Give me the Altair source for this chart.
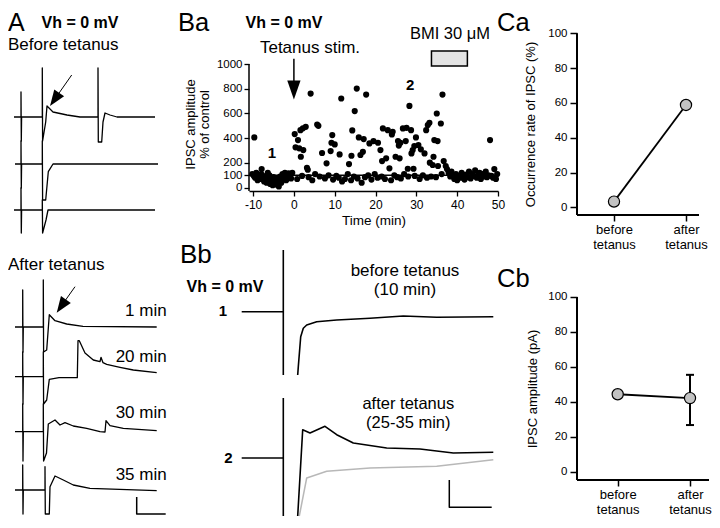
import altair as alt
import pandas as pd

FONT = "Liberation Sans"

# ================= Panel Ba : IPSC amplitude (% of control) vs time (min) =================
pre_time = [-9.7, -10.2, -9.8, -9.5, -9.2, -8.9, -8.6, -8.3, -8.0, -7.9,
            -7.6, -7.3, -7.0, -6.7, -6.4, -6.1, -6.0, -5.8, -5.5, -5.2,
            -5.0, -4.9, -4.6, -4.3, -4.0, -3.7, -3.4, -3.1, -3.0, -2.8,
            -2.5, -2.2, -2.0, -1.9, -1.6, -1.3, -1.0, -0.7, -0.4]
pre_amp = [406, 110, 95, 80, 120, 60, 100, 70, 110, 150,
           95, 50, 85, 40, 120, 70, 100, 30, 60, 20,
           85, 45, 75, 25, 55, 10, 90, 40, 65, 110,
           80, 120, 95, 60, 100, 115, 90, 75, 120]
burst_time = [0.2, 0.4, 1.0, 1.3, 1.6, 1.7, 2.2, 2.3, 2.9, 3.2,
              3.4, 4.1, 5.7, 6.0, 6.9, 8.0, 9.0, 9.2, 9.4, 10.0,
              11.2, 11.6, 13.5, 14.1, 14.3, 14.9, 15.4, 15.9, 16.3, 16.9,
              17.1, 17.7, 18.5, 19.5, 20.6, 21.2, 21.6, 21.8, 22.6, 23.0,
              23.4, 24.0, 24.2, 24.9, 25.5, 25.7, 25.9, 26.1, 26.7, 27.4,
              27.6, 27.9, 28.3, 28.7, 28.8, 29.1, 29.3, 29.5, 29.9, 30.5,
              31.1, 32.0, 32.4, 32.8, 33.2, 33.3, 34.0, 34.2, 34.4, 35.0,
              35.2, 35.3, 36.0, 36.4, 36.7, 37.2, 48.05]
burst_amp = [433, 326, 385, 318, 465, 250, 480, 304, 492, 161,
             145, 761, 511, 500, 280, 197, 296, 363, 425, 350,
             269, 721, 191, 258, 463, 619, 801, 406, 264, 290,
             393, 753, 358, 377, 363, 304, 215, 479, 237, 465,
             156, 430, 452, 250, 377, 340, 237, 363, 479, 377,
             484, 153, 661, 465, 277, 304, 153, 336, 406, 344,
             310, 277, 465, 506, 524, 202, 183, 250, 385, 600,
             377, 175, 519, 753, 215, 175, 385]
base_time = [0.8, 2.0, 3.6, 4.5, 5.2, 6.3, 7.6, 8.5, 9.6, 10.4,
             11.0, 11.8, 12.5, 13.2, 14.0, 14.7, 15.6, 16.6, 17.4, 18.2,
             19.0, 19.8, 20.5, 21.5, 22.3, 23.8, 24.6, 25.3, 26.2, 27.0,
             28.0, 29.6, 30.8, 31.6, 32.6, 33.6, 34.8, 36.2]
base_amp = [70, 95, 85, 60, 110, 90, 75, 100, 65, 95,
            80, 50, 70, 110, 60, 90, 75, 40, 85, 100,
            65, 110, 80, 90, 70, 60, 100, 85, 75, 110,
            90, 95, 70, 100, 80, 90, 85, 110]
late_time = [37.5, 37.9, 38.3, 38.6, 39.0, 39.3, 39.7, 40.0, 40.4, 40.8,
             41.1, 41.5, 41.8, 42.2, 42.6, 42.9, 43.3, 43.7, 44.0, 44.4,
             44.8, 45.1, 45.5, 45.8, 46.2, 46.6, 47.0, 47.3, 47.7, 48.4,
             48.8, 49.1, 49.5, 49.8]
late_amp = [150, 120, 90, 130, 100, 70, 110, 60, 95, 80,
            120, 90, 65, 105, 85, 130, 75, 110, 95, 140,
            80, 100, 120, 70, 110, 90, 130, 85, 100, 95,
            80, 150, 70, 110]
ba_time = pre_time + burst_time + base_time + late_time
ba_amp = pre_amp + burst_amp + base_amp + late_amp
ba_xticks = [-10, 0, 10, 20, 30, 40, 50]
ba_yticks = [0, 100, 200, 400, 600, 800, 1000]
control_level = [100]
bmi_window_min = [33.7, 42.5]
bmi_box_amp = [984, 1105]
tetanus_arrow_amp = [1043, 790]
ba_marks = ["1", "2"]
ba_mark_time = [-5.4, 28.5]
ba_mark_amp = [240, 788]

# ================= Panel C =================
conditions = ["before tetanus", "after tetanus"]
occurrence_rate = [3.3, 58.8]
ipsc_amp_pA = [44.4, 42.2]
err_cond = ["after tetanus"]
err_low = [26.8]
err_high = [55.5]
c_yticks = [0, 20, 40, 60, 80, 100]

# ================= Panel A traces (x: time, y: current; baseline = 0) =================
A_b1_x = [0, 7, 7, 7.3, 7.6, 28.3, 28.3, 28.6, 31.7, 33, 39, 53, 66, 84, 84, 84.3, 87.7, 89, 91, 96, 103, 141]
A_b1_y = [0, 0, 25, -24, 0, 0, 49, -24, -5, 11, 5, 2, 0, 0, 49, -25, -25, -5, 4, 2, 0, 0]
A_b2_x = [1, 7, 7, 7.3, 7.6, 28.3, 28.3, 28.6, 31.7, 34.3, 39, 144]
A_b2_y = [0, 0, 23, -24, 0, 0, 23, -36, -36, -7.7, 0, 0]
A_b3_x = [0, 7, 7, 7.3, 7.6, 28.3, 28.3, 28.6, 32, 34, 141]
A_b3_y = [0, 0, 22, -23, 0, 0, 10, -23, -10, 0, 0]
A_a1_x = [1, 8.7, 8.7, 9, 9.3, 29.3, 29.3, 29.6, 32.7, 35.3, 41, 52.7, 69, 142.7]
A_a1_y = [0, 0, 37, -25, 0, 0, 47, -25, -23, 12.3, 6.3, 3, 0.7, 0]
A_a2_x = [1, 8.7, 8.7, 9, 9.3, 29.3, 29.3, 29.6, 32.7, 35.3, 45, 63.3, 64, 65.3, 71, 79.3, 86, 87, 89, 92.7, 106, 119.3, 142.7]
A_a2_y = [0, 0, 24.7, -27.3, 0, 0, 24.7, -27.3, -23.3, -2.6, -1, -1, 36, 36, 23.7, 16.7, 15, 19.4, 14, 12.4, 9.4, 6.7, 4]
A_a3_x = [1, 8.7, 8.7, 9, 9.3, 29.3, 29.3, 29.6, 32.5, 34.3, 41, 46, 51, 59.3, 72.7, 86, 91, 92, 96, 109.3, 142.7]
A_a3_y = [0, 0, 27.7, -29.3, 0, 0, 27.7, -29.3, -21.3, 7.7, 11.7, 6.7, 9, 5.7, 3.4, 0, -0.3, 11, 6, 3.4, 1]
A_a4_x = [1, 8.7, 8.7, 9, 9.3, 31, 31, 31.3, 35.3, 36, 41, 49.3, 59.3, 76, 142.7]
A_a4_y = [0, 0, 25, -24, 0, 0, 23.3, -24, -24, 3.3, 14, 10, 5, 1.7, -0.7]
A_after_labels = ["1 min", "20 min", "30 min", "35 min"]
A_label_x = 152.7
A_label_y = [11, 15, 13.4, 10]
A_scale_x = [122.7, 122.7, 151.7]
A_scale_y = [-7, -24, -24]

# ================= Panel Bb traces =================
Bb1_pre_x, Bb1_pre_y = [-41.6, 0], [0, 0]
Bb1_art_x, Bb1_art_y = [0, 0], [61.7, -63.3]
Bb1_post_x = [14.4, 15, 17.4, 20, 23.4, 33.4, 53.4, 86.7, 120, 153.4, 210]
Bb1_post_y = [-63.3, -55, -25, -16.6, -13.3, -10, -8.3, -6.6, -4.3, -5.6, -5]
Bb2_pre_x, Bb2_pre_y = [-41.6, 0], [0, 0]
Bb2_art_x, Bb2_art_y = [0, 0], [60, -58]
Bb2_post_x = [14.4, 19.4, 26.7, 41.7, 53.4, 70, 103.4, 136.7, 170, 210]
Bb2_post_y = [-58, 28.3, 25, 31.7, 23.3, 15, 10, 9, 5, 5.7]
Bb2_bmi_x = [16, 23.4, 43.4, 86.7, 153.4, 210]
Bb2_bmi_y = [-58, -20, -13.3, -10, -8.3, -1.7]
Bb_scale_x = [166, 166, 208.4]
Bb_scale_y = [-22, -49.3, -49.3]

HEAD = "M0,-1L0.75,1L-0.75,1Z"
PLAIN = "'' + datum.value"


def seq(xs, ys, seg="trace"):
    return pd.DataFrame({"x": xs, "y": ys, "seg": seg, "i": list(range(len(xs)))})


def xs_enc(dom):
    return alt.X("x:Q", scale=alt.Scale(domain=dom, nice=False, zero=False), axis=None)


def ys_enc(dom):
    return alt.Y("y:Q", scale=alt.Scale(domain=dom, nice=False, zero=False), axis=None)


def line(df, X, Y, color="black", width=1.3):
    return alt.Chart(df).mark_line(color=color, strokeWidth=width, strokeJoin="round").encode(
        x=X, y=Y, detail="seg:N", order="i:Q")


def dtext(labels, xs, ys, X, Y, size=17, weight="normal", align="center"):
    df = pd.DataFrame({"x": xs, "y": ys, "label": labels})
    return alt.Chart(df).mark_text(font=FONT, fontSize=size, fontWeight=weight, align=align,
                                   baseline="alphabetic", color="black").encode(x=X, y=Y, text="label:N")


def ptext(s, x, y, size, weight="normal", align="left"):
    return alt.Chart(pd.DataFrame({"label": [s]})).mark_text(
        font=FONT, fontSize=size, fontWeight=weight, align=align, baseline="alphabetic",
        color="black").encode(x=alt.value(x), y=alt.value(y), text="label:N")


def arrow(x0, y0, xh, yh, angle, X, Y, size=256, shape=HEAD):
    shaft = alt.Chart(pd.DataFrame({"x": [x0], "y": [y0], "x2": [xh], "y2": [yh]})).mark_rule(
        color="black", strokeWidth=1).encode(x=X, y=Y, x2="x2:Q", y2="y2:Q")
    head = alt.Chart(pd.DataFrame({"x": [xh], "y": [yh]})).mark_point(
        shape=shape, filled=True, color="black", opacity=1, size=size, angle=angle,
        strokeWidth=0).encode(x=X, y=Y)
    return [shaft, head]


# ---------------- Panel A (two cells) ----------------
WA = 162
XA = xs_enc([-6, 156])

Y1, Y2, Y3 = ys_enc([-118, 109]), ys_enc([-71, 156]), ys_enc([-25, 202])
pA_top = alt.layer(
    line(seq(A_b1_x, A_b1_y), XA, Y1),
    *arrow(57.7, 42, 40.6, 17.6, 215, XA, Y1),
    line(seq(A_b2_x, A_b2_y), XA, Y2),
    line(seq(A_b3_x, A_b3_y), XA, Y3),
    ptext("A", 0, 22.5, 25),
    ptext("Vh = 0 mV", 72, 20, 16, "bold", "center"),
    ptext("Before tetanus", 0, 42, 17),
).resolve_scale(y="independent").properties(width=WA, height=227)

Ya = [ys_enc([-187, 92]), ys_enc([-137.3, 141.7]), ys_enc([-82.3, 196.7]), ys_enc([-24, 255])]
A_after_traces = [(A_a1_x, A_a1_y), (A_a2_x, A_a2_y), (A_a3_x, A_a3_y), (A_a4_x, A_a4_y)]
a_layers = []
for k, (tx, ty) in enumerate(A_after_traces):
    a_layers.append(line(seq(tx, ty), XA, Ya[k]))
    a_layers.append(dtext([A_after_labels[k]], [A_label_x], [A_label_y[k]], XA, Ya[k], align="right"))
a_layers += arrow(61, 40.3, 47.3, 20.9, 215, XA, Ya[0])
a_layers.append(line(seq(A_scale_x, A_scale_y, "bar"), XA, Ya[3], width=1.5))
a_layers.append(ptext("After tetanus", 0, 35, 17))
pA_bot = alt.layer(*a_layers).resolve_scale(y="independent").properties(width=WA, height=279)

# ---------------- Panel Ba ----------------
WB = 249
HBA = 183
BX = alt.X("t:Q", scale=alt.Scale(domain=[-11, 50], nice=False, zero=False),
           axis=alt.Axis(values=ba_xticks, title="Time (min)", tickSize=5, labelPadding=3,
                         titlePadding=3, labelFontSize=12, titleFontSize=13.5, domainWidth=1.5,
                         tickWidth=1.3, labelOverlap=False, labelFlush=False, labelExpr=PLAIN))
BY = alt.Y("v:Q", scale=alt.Scale(domain=[-27, 1452.9], nice=False, zero=False),
           axis=alt.Axis(values=ba_yticks, title=["IPSC amplitude", "% of control"], tickSize=5,
                         labelPadding=2, titlePadding=5, labelFontSize=11.5, titleFontSize=13,
                         titleLineHeight=13.5, domain=False, tickWidth=1.3, labelOverlap=False,
                         labelFlush=False, titleY=116, labelExpr=PLAIN))

df_ba = pd.DataFrame({"t": ba_time, "v": ba_amp})
ba_axis = alt.Chart(pd.DataFrame({"v": [ba_yticks[-1]], "v2": [-27]})).mark_rule(
    color="black", strokeWidth=1.5).encode(x=alt.value(0), y=BY, y2="v2:Q")
ba_pts = alt.Chart(df_ba).mark_circle(size=38, color="black", opacity=1).encode(x=BX, y=BY)
ba_ctrl = alt.Chart(pd.DataFrame({"v": control_level})).mark_rule(color="black", strokeWidth=1.5).encode(y=BY)
ba_box = alt.Chart(pd.DataFrame({"t": [bmi_window_min[0]], "t2": [bmi_window_min[1]],
                                 "v": [bmi_box_amp[0]], "v2": [bmi_box_amp[1]]})).mark_rect(
    fill="#e4e4e4", stroke="black", strokeWidth=1.5).encode(x=BX, x2="t2:Q", y=BY, y2="v2:Q")
ba_shaft = alt.Chart(pd.DataFrame({"t": [0], "v": [tetanus_arrow_amp[0]], "v2": [tetanus_arrow_amp[1]]})).mark_rule(
    color="black", strokeWidth=1.5).encode(x=BX, y=BY, y2="v2:Q")
ba_head = alt.Chart(pd.DataFrame({"t": [0], "v": [tetanus_arrow_amp[1]]})).mark_point(
    shape="M0,-1L0.7,1L-0.7,1Z", filled=True, color="black", opacity=1, size=361, angle=180,
    strokeWidth=0).encode(x=BX, y=BY)
ba_lab = alt.Chart(pd.DataFrame({"t": ba_mark_time, "v": ba_mark_amp, "label": ba_marks})).mark_text(
    font=FONT, fontSize=15, fontWeight="bold", baseline="alphabetic", color="black").encode(
    x=BX, y=BY, text="label:N")
pBa = alt.layer(
    ba_axis, ba_box, ba_ctrl, ba_pts, ba_shaft, ba_head, ba_lab,
    ptext("Ba", -71, 23, 25.5),
    ptext("Vh = 0 mV", 35, 20, 16, "bold", "center"),
    ptext("Tetanus stim.", 61, 45, 17, "normal", "center"),
    ptext("BMI 30 \u03bcM", 201, 31, 16.5, "normal", "center"),
).properties(width=WB, height=HBA)

# ---------------- Panel Bb ----------------
XB = xs_enc([-34.3, 214.7])
Yb1, Yb2 = ys_enc([-203.3, 76.7]), ys_enc([-57, 223])
df_b1 = pd.concat([seq(Bb1_pre_x, Bb1_pre_y, "pre"), seq(Bb1_art_x, Bb1_art_y, "art"),
                   seq(Bb1_post_x, Bb1_post_y, "post")])
df_b2 = pd.concat([seq(Bb2_pre_x, Bb2_pre_y, "pre"), seq(Bb2_art_x, Bb2_art_y, "art"),
                   seq(Bb2_post_x, Bb2_post_y, "post")])
pBb = alt.layer(
    line(df_b1, XB, Yb1, width=1.6),
    dtext(["before tetanus", "(10 min)"], [121.7, 121.7], [35.7, 16.7], XB, Yb1),
    dtext(["1"], [-60.3], [-4.3], XB, Yb1, size=15, weight="bold"),
    line(seq(Bb2_bmi_x, Bb2_bmi_y, "bmi"), XB, Yb2, color="#b8b8b8", width=1.5),
    line(df_b2, XB, Yb2, width=1.6),
    line(seq(Bb_scale_x, Bb_scale_y, "bar"), XB, Yb2, width=1.5),
    dtext(["after tetanus", "(25-35 min)"], [125, 125], [49, 30.5], XB, Yb2, size=16.5),
    dtext(["2"], [-55], [-5], XB, Yb2, size=15, weight="bold"),
    ptext("Bb", -69, 28, 26),
    ptext("Vh = 0 mV", -24, 56.7, 16, "bold", "center"),
).resolve_scale(y="independent").properties(width=WB, height=280)


# ---------------- Panels Ca / Cb ----------------
def cpanel(values, field, title, width, height, ydom, rng, tpad, title_y, label, label_y, extra=()):
    CX = alt.X("cond:N", sort=conditions, scale=alt.Scale(type="point", range=rng, padding=0),
               axis=alt.Axis(title=None, labelExpr="split(datum.label, ' ')", domain=False,
                             labelAngle=0, tickSize=6, tickWidth=1.5, labelFontSize=13,
                             labelLineHeight=15, labelPadding=2))
    CY = alt.Y(f"{field}:Q", scale=alt.Scale(domain=ydom, nice=False, zero=False),
               axis=alt.Axis(values=c_yticks, title=title, tickSize=7, labelPadding=3,
                             titlePadding=tpad, labelFontSize=11.5, titleFontSize=13,
                             domain=False, tickWidth=1.5, labelOverlap=False, titleY=title_y))
    df = pd.DataFrame({"cond": conditions, field: values})
    yaxis = alt.Chart(pd.DataFrame({field: [c_yticks[-1]], "lo": [ydom[0]]})).mark_rule(
        color="black", strokeWidth=2).encode(x=alt.value(0), y=CY, y2="lo:Q")
    xaxis = alt.Chart(pd.DataFrame({"k": [0]})).mark_rule(color="black", strokeWidth=2).encode(
        x=alt.value(0), x2=alt.value(width), y=alt.value(height))
    ln = alt.Chart(df).mark_line(color="black", strokeWidth=1.8).encode(x=CX, y=CY)
    pts = alt.Chart(df).mark_circle(size=125, fill="#c2c2c2", stroke="black", strokeWidth=1.2,
                                    opacity=1).encode(x=CX, y=CY)
    layers = [yaxis, xaxis, ln] + [e(CX, CY) for e in extra] + [pts, ptext(label, -80, label_y, 25.5)]
    return alt.layer(*layers).properties(width=width, height=height)


def err_rule(CX, CY):
    return alt.Chart(pd.DataFrame({"cond": err_cond, "amp": err_low, "hi": err_high})).mark_rule(
        color="black", strokeWidth=2).encode(x=CX, y=CY, y2="hi:Q")


def err_caps(CX, CY):
    return alt.Chart(pd.DataFrame({"cond": err_cond * 2, "amp": err_low + err_high})).mark_tick(
        color="black", size=8, thickness=2, opacity=1).encode(x=CX, y=CY)


pCa = cpanel(occurrence_rate, "rate", "Occurrence rate of IPSC (%)", 122, 207, [-4.4, 114.5],
             [37, 109], 10, 116, "Ca", 23)
pCb = cpanel(ipsc_amp_pA, "amp", "IPSC amplitude (pA)", 132, 245, [-4.6, 135.4], [40.7, 113], 8,
             153.5, "Cb", 52, extra=(err_rule, err_caps))

chart = alt.concat(
    pA_top, pBa, pCa, pA_bot, pBb, pCb,
    columns=3, spacing={"row": 0, "column": 79}, bounds="flush", align="each",
).properties(padding=0).configure(font=FONT).configure_view(stroke=None).configure_axis(
    grid=False, domainColor="black", tickColor="black", labelColor="black", titleColor="black",
    labelFont=FONT, titleFont=FONT, titleFontWeight="normal"
)

chart.save("out.html", embed_options={"renderer": "svg", "actions": False})
